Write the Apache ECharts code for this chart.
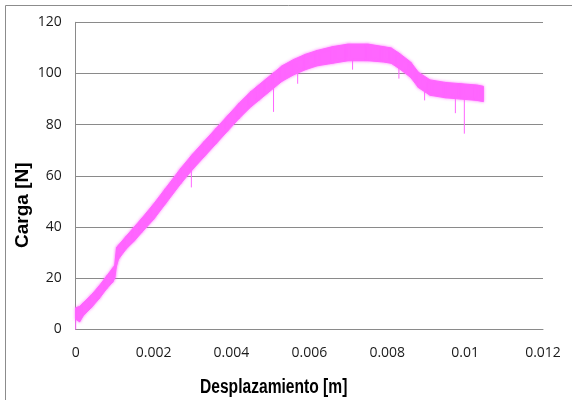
<!DOCTYPE html>
<html>
<head>
<meta charset="utf-8">
<script src="https://cdn.jsdelivr.net/npm/echarts@6/dist/echarts.min.js"></script>
<style>
  html, body { margin: 0; padding: 0; background: #fff; }
  #chart { width: 572px; height: 400px; }
</style>
</head>
<body>
<div id="chart"></div>
<script>
// Load–displacement record: displacement [m] with the lower and upper edge of the noisy load trace [N]
const displacement = [0, 0.0001, 0.0002, 0.0004, 0.0006, 0.0008, 0.00095, 0.001, 0.00105, 0.0011,
  0.0013, 0.0015, 0.0017, 0.002, 0.0023, 0.0027, 0.003, 0.0033, 0.0036, 0.0039,
  0.0042, 0.0045, 0.0047, 0.0049, 0.0051, 0.0053, 0.0056, 0.0059, 0.0062, 0.0066,
  0.007, 0.0075, 0.0079, 0.0081, 0.0083, 0.0086, 0.0088, 0.0091, 0.0095, 0.0099,
  0.0103, 0.01047];
const loadLow = [4, 3, 5.5, 8.5, 12, 16, 18.5, 20, 25, 27.5,
  31.5, 34.5, 38, 43, 49, 57, 62.5, 67.5, 72.5, 77.5,
  82.5, 87, 89.5, 92, 94.5, 97, 99.5, 101.5, 103, 104,
  105, 105, 104.5, 104, 102, 98.5, 94.5, 91.5, 90.5, 90,
  89.5, 89];
const loadHigh = [8.5, 9, 10.5, 13.5, 17, 21, 24, 25, 32, 33,
  36.5, 40, 43.5, 49, 55, 63, 68.5, 73.5, 78.5, 83.5,
  88.5, 93, 95.5, 98, 100.5, 103, 105.5, 107.5, 109, 110.5,
  111.5, 111.5, 110.5, 110, 108, 104.5, 100.5, 97.5, 96.5, 96,
  95.5, 95];

// Short downward drops in the signal: position, load where the drop starts, lowest load reached
const dropX = [0, 0.00297, 0.00508, 0.0057, 0.00711, 0.0083, 0.00896, 0.00975, 0.00998];
const dropFrom = [8.5, 64, 95, 101, 106, 103, 93, 91, 91];
const dropTo = [0, 55.5, 85, 96, 101.5, 98, 89.5, 84.5, 76.5];

// Axis ticks
const xTicks = { min: 0, max: 0.012, step: 0.002 };
const yTicks = { min: 0, max: 120, step: 20 };

const traceColor = '#ff66ff';

// One custom item per segment of the band, drawn between the lower and upper edge
const bandItems = displacement.slice(0, -1).map((x, i) => [x, loadLow[i], i]);
function renderBand(params, api) {
  const i = api.value(2);
  const pts = [
    api.coord([displacement[i], loadLow[i]]),
    api.coord([displacement[i + 1], loadLow[i + 1]]),
    api.coord([displacement[i + 1], loadHigh[i + 1]]),
    api.coord([displacement[i], loadHigh[i]])
  ];
  return {
    type: 'polygon',
    shape: { points: pts },
    style: {
      fill: traceColor, stroke: traceColor, lineWidth: 1,
      shadowBlur: 3, shadowColor: 'rgba(255,102,255,0.7)'
    }
  };
}

const dropSeries = [];
dropX.forEach((x, i) => {
  dropSeries.push([x, dropFrom[i]], [x, dropTo[i]], [x, '-']);
});

const chart = echarts.init(document.getElementById('chart'), null, { renderer: 'canvas' });
chart.setOption({
  animation: false,
  backgroundColor: '#ffffff',
  grid: { left: 75.7, right: 29, top: 22.3, bottom: 70.5, containLabel: false },
  xAxis: {
    type: 'value',
    min: xTicks.min, max: xTicks.max, interval: xTicks.step,
    axisLine: { show: true, lineStyle: { color: '#8a8a8a', width: 1 } },
    axisTick: { show: false },
    splitLine: { show: false },
    axisLabel: {
      margin: 17,
      color: '#1a1a1a',
      fontFamily: 'Open Sans',
      fontSize: 14,
      formatter: v => String(+v.toFixed(3))
    }
  },
  yAxis: {
    type: 'value',
    min: yTicks.min, max: yTicks.max, interval: yTicks.step,
    axisLine: { show: true, lineStyle: { color: '#8a8a8a', width: 1 } },
    axisTick: { show: false },
    splitLine: { show: true, lineStyle: { color: '#8a8a8a', width: 1 } },
    axisLabel: {
      margin: 14,
      color: '#1a1a1a',
      fontFamily: 'Open Sans',
      fontSize: 14
    }
  },
  series: [
    {
      type: 'custom', coordinateSystem: 'cartesian2d',
      data: bandItems, renderItem: renderBand, silent: true,
      encode: { x: 0, y: 1 }
    },
    {
      type: 'line', data: dropSeries, symbol: 'none', connectNulls: false,
      lineStyle: { width: 1, color: traceColor }, silent: true
    }
  ],
  graphic: [
    {
      type: 'polyline', silent: true,
      shape: { points: [[5.5, 400], [5.5, 5.5], [572, 5.5]] },
      style: { stroke: '#8c8c8c', lineWidth: 1, fill: null }
    },
    {
      type: 'text', x: 200, y: 377, scaleX: 0.78,
      style: {
        text: 'Desplazamiento [m]', fill: '#000',
        fontSize: 20, fontWeight: 'bold',
        fontFamily: '"Liberation Sans", Arial, sans-serif'
      }
    },
    {
      type: 'text', x: 13, y: 248, rotation: Math.PI / 2,
      style: {
        text: 'Carga [N]', fill: '#000',
        fontSize: 19, fontWeight: 'bold',
        fontFamily: '"Liberation Sans", Arial, sans-serif'
      }
    }
  ]
});
</script>
</body>
</html>
